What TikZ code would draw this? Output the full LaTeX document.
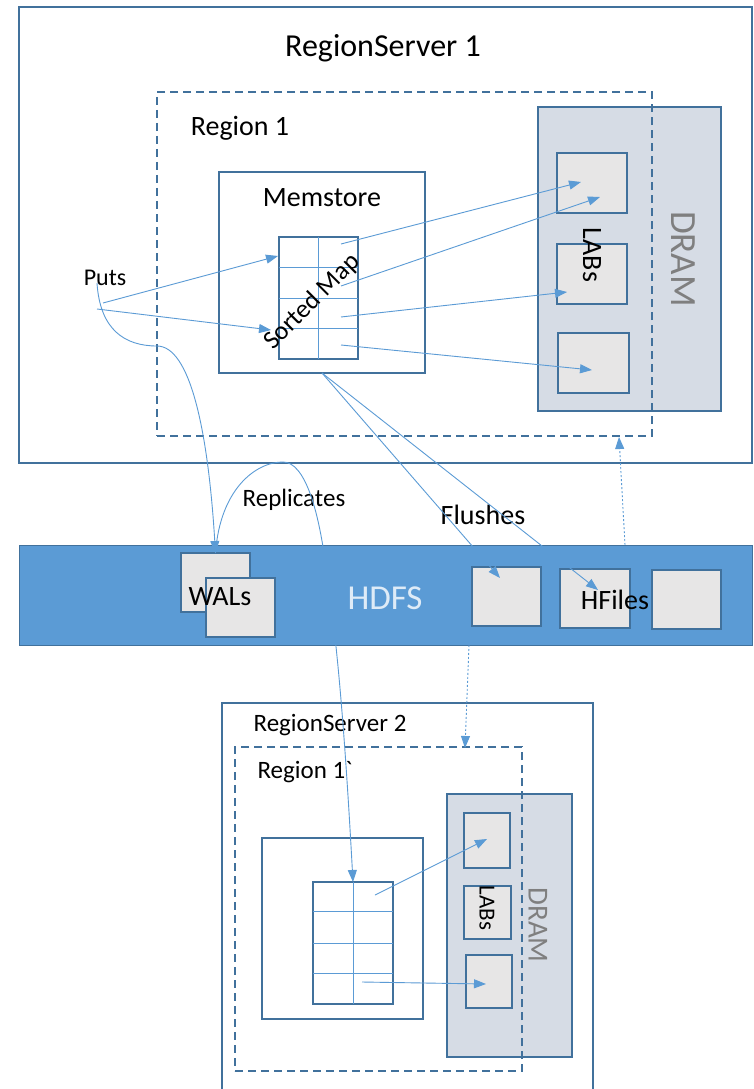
\documentclass[tikz,border=0pt]{standalone}
\usepackage{fontspec}
\setmainfont{Carlito}[Ligatures=TeXOff]
\usetikzlibrary{arrows.meta,calc}
\definecolor{boxblue}{HTML}{41719C}
\definecolor{lineblue}{HTML}{5B9BD5}
\definecolor{hdfsfill}{HTML}{5B9BD5}
\definecolor{dramfill}{HTML}{D6DCE5}
\definecolor{labfill}{HTML}{E7E6E6}
\definecolor{hdfstext}{HTML}{DEEBF7}
\definecolor{dramtext}{HTML}{7F7F7F}
\newcommand\tsz[1]{\fontsize{#1}{#1}\selectfont}

\begin{document}
\begin{tikzpicture}[x=1pt,y=-1pt,
  frame/.style={draw=boxblue, line width=1.4pt, inner sep=0pt, outer sep=0pt},
  server/.style={frame, fill=white},
  region/.style={frame, dash pattern=on 8pt off 5pt},
  dram/.style={frame, fill=dramfill},
  cell/.style={frame, fill=labfill},
  mapgrid/.style={frame},
  band/.style={draw=boxblue, line width=0.8pt, fill=hdfsfill, inner sep=0pt, outer sep=0pt},
  lbl/.style={inner sep=0pt, text=black},
  conn/.style={draw=lineblue, line width=0.9pt, -{Triangle[length=12pt,width=9pt]}},
  dotconn/.style={conn, dash pattern=on 2pt off 2pt},
  gridline/.style={draw=lineblue, line width=0.9pt},
]
\useasboundingbox (0,0) rectangle (753,1089);

% ---------------- RegionServer 1 ----------------
\node[server, minimum width=733pt, minimum height=456pt] (rs1) at (385.5,235) {};
\node[lbl] (rs1title) at (383,48) {\tsz{32}RegionServer 1};

\node[dram, minimum width=183pt, minimum height=304pt] (dram1) at (629.5,259) {};
\node[region, minimum width=495pt, minimum height=344pt] (reg1) at (404.5,264) {};
\node[lbl] (reg1title) at (240,128) {\tsz{28}Region 1};

\node[frame, minimum width=206pt, minimum height=201pt] (mem1) at (322,272.5) {};
\node[lbl] (mem1title) at (322,198) {\tsz{28}Memstore};

\node[mapgrid, minimum width=79pt, minimum height=122pt] (map1) at (318.5,298) {};
\draw[gridline] (map1.north) -- (map1.south);
\foreach \f in {0.25,0.5,0.75}
  \draw[gridline] ($(map1.north west)!\f!(map1.south west)$) -- ($(map1.north east)!\f!(map1.south east)$);
\node[lbl, rotate=45] (map1text) at (312,302) {\tsz{26}Sorted Map};

\node[cell, minimum width=70pt, minimum height=60pt] (lab1a) at (592,183) {};
\node[cell, minimum width=70pt, minimum height=60pt] (lab1b) at (592,274) {};
\node[cell, minimum width=71pt, minimum height=60pt] (lab1c) at (593.5,363) {};
\node[lbl, rotate=-90] (lab1text) at (592,255) {\tsz{28}LABs};
\node[lbl, rotate=-90, text=dramtext] (dram1text) at (683,259) {\tsz{37}DRAM};

\node[lbl] (puts) at (105,278) {\tsz{24}Puts};

% ---------------- HDFS ----------------
\node[band, minimum width=733pt, minimum height=100pt] (hdfs) at (385.5,595) {};
\node[lbl, text=hdfstext] (hdfstitle) at (385,598) {\tsz{35}HDFS};

\node[cell, minimum width=69pt, minimum height=59pt] (wal1) at (215.5,582.5) {};
\node[cell, minimum width=69pt, minimum height=59pt] (wal2) at (240.5,607.5) {};
\node[lbl] (waltext) at (220,597) {\tsz{28}WALs};

\node[cell, minimum width=69pt, minimum height=59pt] (hf1) at (506.5,596.5) {};
\node[cell, minimum width=70pt, minimum height=59pt] (hf2) at (595,598.5) {};
\node[cell, minimum width=69pt, minimum height=59pt] (hf3) at (686.5,599.5) {};
\node[lbl] (hftext) at (615,600) {\tsz{28}HFiles};

\node[lbl] (flushes) at (483,515) {\tsz{28}Flushes};
\node[lbl] (replicates) at (294,500) {\tsz{25}Replicates};

% ---------------- RegionServer 2 ----------------
\node[server, minimum width=371pt, minimum height=397pt] (rs2) at (407.5,901.5) {};
\node[lbl] (rs2title) at (330,725) {\tsz{25}RegionServer 2};

\node[dram, minimum width=125pt, minimum height=263pt] (dram2) at (509.5,925.5) {};
\node[region, minimum width=287pt, minimum height=324pt] (reg2) at (378.5,909) {};
\node[lbl] (reg2title) at (305,772) {\tsz{25}Region 1`};

\node[frame, minimum width=161pt, minimum height=181pt] (mem2) at (342.5,928.5) {};
\node[mapgrid, minimum width=80pt, minimum height=122pt] (map2) at (353,943) {};
\draw[gridline] (map2.north) -- (map2.south);
\foreach \f in {0.24,0.5,0.75}
  \draw[gridline] ($(map2.north west)!\f!(map2.south west)$) -- ($(map2.north east)!\f!(map2.south east)$);

\node[cell, minimum width=46pt, minimum height=55pt] (lab2a) at (487,840.5) {};
\node[cell, minimum width=47pt, minimum height=53pt] (lab2b) at (487.5,912.5) {};
\node[cell, minimum width=46pt, minimum height=53pt] (lab2c) at (489,981.5) {};
\node[lbl, rotate=-90] (lab2text) at (487,908) {\tsz{23}LABs};
\node[lbl, rotate=-90, text=dramtext] (dram2text) at (538,925) {\tsz{29}DRAM};

% ---------------- connector end points ----------------
\coordinate (putsA) at (103,303);
\coordinate (putsB) at (97,309);
\coordinate (putsfoot) at (97,283);
\coordinate (inA) at (278,256);
\coordinate (inB) at (271,330);
\coordinate (outA) at (341,244);
\coordinate (outB) at (341,286);
\coordinate (outC) at (341,317);
\coordinate (outD) at (341,345);
\coordinate (tipA) at (581,182);
\coordinate (tipB) at (600,197);
\coordinate (tipC) at (567,292);
\coordinate (tipD) at (592,370);
\coordinate (fltipA) at (500,578);
\coordinate (fltipB) at (598,590);
\coordinate (upfrom) at (625,545);
\coordinate (upto) at (619,437);
\coordinate (downfrom) at (469,645);
\coordinate (downto) at (465,748);
\coordinate (out2A) at (375,895);
\coordinate (out2B) at (362,982);
\coordinate (tip2A) at (487,839);
\coordinate (tip2B) at (486,984);

% ---------------- connectors ----------------
\draw[conn] (putsA) -- (inA);
\draw[conn] (putsB) -- (inB);
\draw[conn] (outA) -- (tipA);
\draw[conn] (outB) -- (tipB);
\draw[conn] (outC) -- (tipC);
\draw[conn] (outD) -- (tipD);

% write-ahead log path
\draw[conn] (putsfoot) .. controls (100,330) and (125,346) .. (157,346)
  .. controls (190,346) and (208,430) .. (wal1.north);
% replication to the second server
\draw[conn] (wal1.north) .. controls (220,490) and (255,462) .. (283,462)
  .. controls (305,462) and (318,510) .. (325,560)
  .. controls (333,615) and (342,680) .. (map2.north);

% flushes to HFiles
\draw[conn] (mem1.south) -- (fltipA);
\draw[conn] (mem1.south) -- (fltipB);

% reads from HDFS
\draw[dotconn] (upfrom) -- (upto);
\draw[dotconn] (downfrom) -- (downto);

% second server cache
\draw[conn] (out2A) -- (tip2A);
\draw[conn] (out2B) -- (tip2B);
\end{tikzpicture}
\end{document}
